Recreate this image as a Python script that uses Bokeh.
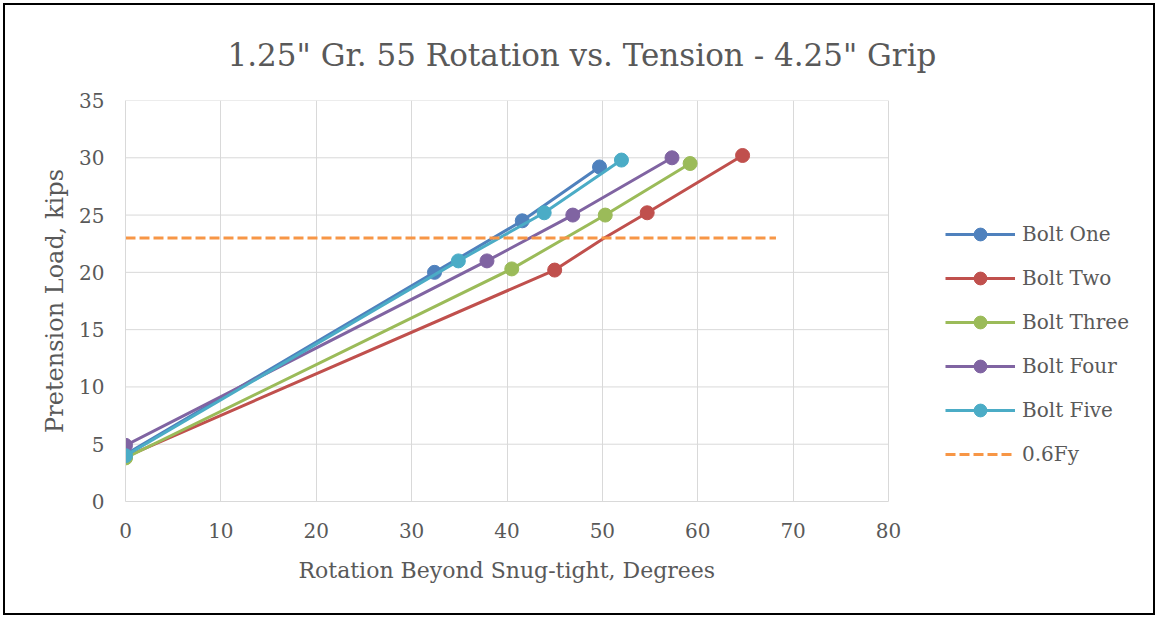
from bokeh.plotting import figure
from bokeh.models import Legend, LegendItem, Range1d, FixedTicker, Title
from bokeh.embed import file_html
from bokeh.resources import INLINE

# ---- data ----
series_names = ["Bolt One", "Bolt Two", "Bolt Three", "Bolt Four", "Bolt Five"]
bolt_one_x = [0, 32.4, 41.6, 49.7]
bolt_one_y = [4.1, 20.0, 24.5, 29.2]
bolt_two_x = [0, 45.0, 50.2, 54.7, 64.7]
bolt_two_y = [3.9, 20.2, 23.0, 25.2, 30.2]
bolt_two_marker = [True, True, False, True, True]
bolt_three_x = [0, 40.5, 50.3, 59.2]
bolt_three_y = [3.8, 20.3, 25.0, 29.5]
bolt_four_x = [0, 37.9, 46.9, 57.3]
bolt_four_y = [4.9, 21.0, 25.0, 30.0]
bolt_five_x = [0, 34.9, 43.9, 52.0]
bolt_five_y = [4.0, 21.0, 25.2, 29.8]
fy_name = "0.6Fy"
fy_x = [0, 68.2]
fy_y = [23, 23]
x_ticks = [0, 10, 20, 30, 40, 50, 60, 70, 80]
y_ticks = [0, 5, 10, 15, 20, 25, 30, 35]
title_text = '1.25" Gr. 55 Rotation vs. Tension - 4.25" Grip'
x_title = "Rotation Beyond Snug-tight, Degrees"
y_title = "Pretension Load, kips"

colors = ["#4F81BD", "#C0504D", "#9BBB59", "#8064A2", "#4BACC6"]
fy_color = "#F79646"
FONT = "DejaVu Serif"
TXT = "#595959"
GRID = "#D9D9D9"

# layout: plot area 763 px wide for 0..80, frame extended to the right edge to host the legend
X_MIN, X_MAX = x_ticks[0], x_ticks[-1]
PLOT_W = 763
FRAME_W = 1032
x_end = X_MAX * FRAME_W / PLOT_W

p = figure(width=1152, height=612, output_backend="svg", toolbar_location=None,
           x_range=Range1d(X_MIN, x_end), y_range=Range1d(y_ticks[0], y_ticks[-1]),
           min_border_left=120, min_border_right=0, min_border_top=95, min_border_bottom=116,
           title=title_text)
p.styles = {"border": "2px solid #000000", "box-sizing": "border-box", "margin": "3px"}

p.title.text_font = FONT
p.title.text_font_size = "31px"
p.title.text_font_style = "normal"
p.title.text_color = TXT
p.title.align = "left"
p.title.offset = 102
p.title.standoff = 56

p.background_fill_color = "white"
p.border_fill_color = "white"
p.outline_line_color = None

for ax in (p.xaxis[0], p.yaxis[0]):
    ax.axis_line_color = GRID
    ax.major_tick_line_color = None
    ax.minor_tick_line_color = None
    ax.major_label_text_font = FONT
    ax.major_label_text_font_size = "20px"
    ax.major_label_text_color = TXT
    ax.axis_label_text_font = FONT
    ax.axis_label_text_font_style = "normal"
    ax.axis_label_text_color = TXT

p.xaxis.bounds = (X_MIN, X_MAX)
p.yaxis.axis_label_text_font_size = "24px"
p.xaxis.ticker = FixedTicker(ticks=x_ticks)
p.yaxis.ticker = FixedTicker(ticks=y_ticks)
p.yaxis.axis_label = y_title
p.xaxis.major_label_standoff = 15
p.yaxis.major_label_standoff = 15
p.yaxis.axis_label_standoff = 7

# x-axis title centred under the plot area (not the legend area)
xt = Title(text=x_title, align="left", offset=173, standoff=30,
           text_font=FONT, text_font_size="22px", text_font_style="normal", text_color=TXT)
p.add_layout(xt, "below")

p.xgrid.ticker = FixedTicker(ticks=x_ticks)
p.xgrid.grid_line_color = GRID
p.ygrid.visible = False
# horizontal gridlines limited to the plot area (0..80)
p.segment(x0=[X_MIN] * len(y_ticks), x1=[X_MAX] * len(y_ticks), y0=y_ticks, y1=y_ticks,
          line_color=GRID, line_width=1)

all_x = [bolt_one_x, bolt_two_x, bolt_three_x, bolt_four_x, bolt_five_x]
all_y = [bolt_one_y, bolt_two_y, bolt_three_y, bolt_four_y, bolt_five_y]
masks = [None, bolt_two_marker, None, None, None]

items = []
for name, xs, ys, m, c in zip(series_names, all_x, all_y, masks, colors):
    ln = p.line(xs, ys, line_color=c, line_width=3)
    if m is None:
        mx, my = xs, ys
    else:
        mx = [x for x, k in zip(xs, m) if k]
        my = [y for y, k in zip(ys, m) if k]
    sc = p.scatter(mx, my, marker="circle", size=14, fill_color=c, line_color=c)
    items.append(LegendItem(label=name, renderers=[ln, sc]))

fl = p.line(fy_x, fy_y, line_color=fy_color, line_width=3, line_dash="10 4")
items.append(LegendItem(label=fy_name, renderers=[fl]))

legend = Legend(items=items, location=(820, 31), orientation="vertical",
                glyph_width=70, glyph_height=32, label_height=20, spacing=12,
                label_standoff=7, padding=0, margin=0,
                border_line_alpha=0, background_fill_alpha=0,
                label_text_font=FONT, label_text_font_size="20px", label_text_color=TXT)
p.add_layout(legend, "center")

open("out.html", "w").write(file_html(p, INLINE))
